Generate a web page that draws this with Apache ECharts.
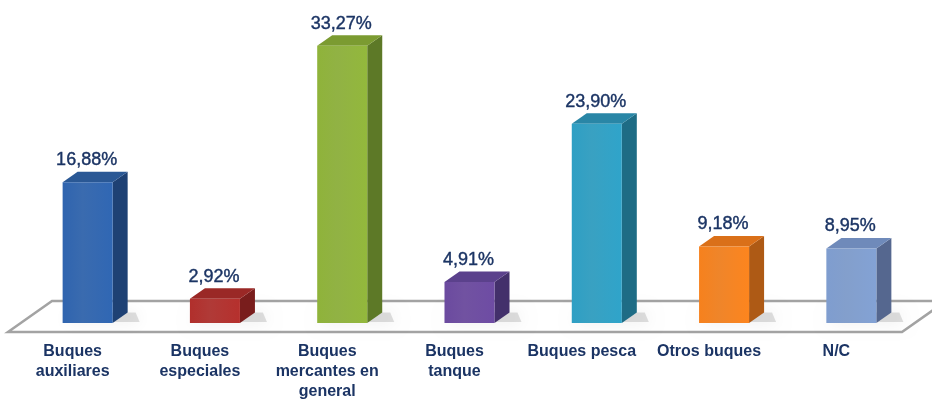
<!DOCTYPE html>
<html>
<head>
<meta charset="utf-8">
<script src="https://cdn.jsdelivr.net/npm/echarts@6/dist/echarts.min.js"></script>
<style>html,body{margin:0;padding:0;background:#fff}#c{width:932px;height:404px}</style>
</head>
<body>
<div id="c"></div>
<script>
const categories = ["Buques\nauxiliares", "Buques\nespeciales", "Buques\nmercantes en\ngeneral", "Buques\ntanque", "Buques pesca", "Otros buques", "N/C"];
const values = [16.88, 2.92, 33.27, 4.91, 23.90, 9.18, 8.95];
const frontColors = ["#2E62AA", "#AC2E2B", "#8BAE39", "#68489B", "#2D9BBF", "#EF7E1D", "#7C99C9"];
const sideColors  = ["#1E4174", "#791D1C", "#5D7927", "#43306B", "#1E6C85", "#AE5A15", "#55678F"];
const topColors   = ["#2A5895", "#9A2826", "#7B9B31", "#5B418C", "#2986A6", "#DA7019", "#6F8ABA"];

const DX = 15, DY = 10.5;
const chart = echarts.init(document.getElementById('c'));

function fmt(v){ return v.toFixed(2).replace('.', ',') + '%'; }

chart.setOption({
  animation: false,
  grid: { left: 24, right: 17, top: 23, bottom: 81, containLabel: false },
  xAxis: {
    type: 'category', data: categories,
    axisLine: { show: false }, axisTick: { show: false },
    axisLabel: {
      interval: 0, margin: 19, color: '#1B3464',
      fontFamily: 'Liberation Sans, Arial, sans-serif', fontWeight: 'bold', fontSize: 16,
      lineHeight: 20, padding: [0, 30, 0, 0]
    }
  },
  yAxis: { type: 'value', min: 0, max: 36, show: false, splitLine: { show: false } },
  series: [
    {
      type: 'custom', z: 1, silent: true,
      data: [[0, 0]],
      renderItem: function (params, api) {
        const cs = params.coordSys;
        const base = cs.y + cs.height;
        const fy = base + 9, by = fy - 31;
        const lx = cs.x - 16, rx = cs.x + cs.width - 13;
        return {
          type: 'polygon',
          shape: { points: [[lx, fy], [rx, fy], [rx + 44, by], [lx + 44, by]] },
          style: { fill: '#ffffff', stroke: '#A3A3A3', lineWidth: 2.5 }
        };
      }
    },
    {
      type: 'custom', z: 2, silent: true,
      data: values.map((v, i) => [i, v]),
      renderItem: function (params, api) {
        const i = params.dataIndex;
        const top = api.coord([api.value(0), api.value(1)]);
        const base = api.coord([api.value(0), 0]);
        const bw = api.size([1, 0])[0] * 0.393;
        const xl = top[0] - bw / 2, xr = top[0] + bw / 2;
        const yt = top[1], yb = base[1];
        const c = frontColors[i];
        return {
          type: 'group',
          children: [
            {
              type: 'polygon',
              shape: { points: [[xl + 2, yb - 1], [xr + DX + 12, yb - 1], [xr + DX + 8, yb - DY], [xl + 8, yb - DY]] },
              style: { fill: 'rgba(0,0,0,0.12)', shadowBlur: 16, shadowColor: 'rgba(0,0,0,0.6)' }
            },
            {
              type: 'polygon',
              shape: { points: [[xr, yt], [xr + DX, yt - DY], [xr + DX, yb - DY], [xr, yb]] },
              style: { fill: sideColors[i] }
            },
            {
              type: 'polygon',
              shape: { points: [[xl, yt], [xl + DX, yt - DY], [xr + DX, yt - DY], [xr, yt]] },
              style: { fill: topColors[i] }
            },
            {
              type: 'rect',
              shape: { x: xl, y: yt, width: bw, height: yb - yt },
              style: {
                fill: new echarts.graphic.LinearGradient(0, 0, 1, 0, [
                  { offset: 0, color: echarts.color.lift(c, -0.03) },
                  { offset: 0.4, color: echarts.color.lift(c, 0.06) },
                  { offset: 1, color: echarts.color.lift(c, -0.06) }
                ])
              }
            },
            {
              type: 'text',
              x: top[0] - 1, y: yt - 22,
              style: {
                text: fmt(api.value(1)), align: 'center', verticalAlign: 'middle',
                fill: '#1B3464', fontSize: 18, fontFamily: 'Liberation Sans, Arial, sans-serif',
                stroke: '#1B3464', lineWidth: 0.4
              }
            }
          ]
        };
      }
    }
  ]
});
</script>
</body>
</html>
